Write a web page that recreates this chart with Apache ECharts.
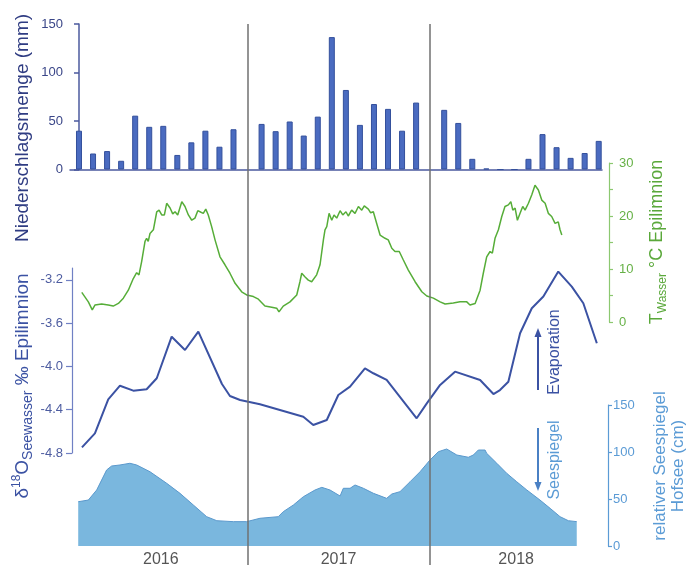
<!DOCTYPE html>
<html>
<head>
<meta charset="utf-8">
<script src="https://cdn.jsdelivr.net/npm/echarts@6/dist/echarts.min.js"></script>
<style>
  html, body { margin: 0; padding: 0; background: #ffffff; }
  #chart { width: 699px; height: 568px; }
</style>
</head>
<body>
<div id="chart"></div>
<script>
// Monthly precipitation (mm), January to December
const years = [2016, 2017, 2018];
const precip2016 = [40, 16.5, 19, 9, 55.5, 44, 45, 15, 28, 40, 23.5, 41.5];
const precip2017 = [47, 39.5, 49.5, 35, 54.5, 136.5, 82, 46, 67.5, 62.5, 40, 69];
const precip2018 = [61.5, 48, 11, 1, 0, 0, 11, 36.5, 23, 12, 17, 29.5];

// Epilimnion water temperature (°C) against decimal year
const waterTemp = [
  [2016.055, 5.6], [2016.092, 3.8], [2016.114, 2.3], [2016.129, 3.2], [2016.167, 3.4],
  [2016.204, 3.2], [2016.232, 3.0], [2016.261, 3.5], [2016.289, 4.5], [2016.317, 6.0],
  [2016.345, 8.2], [2016.364, 9.3], [2016.377, 8.9], [2016.392, 11.4], [2016.411, 15.2],
  [2016.420, 15.8], [2016.429, 15.2], [2016.439, 16.7], [2016.458, 17.4], [2016.477, 20.8],
  [2016.490, 21.1], [2016.505, 20.2], [2016.520, 20.2], [2016.533, 22.4], [2016.552, 21.5],
  [2016.567, 20.4], [2016.580, 20.8], [2016.595, 20.2], [2016.618, 22.7], [2016.636, 21.8],
  [2016.655, 20.2], [2016.674, 19.2], [2016.692, 19.6], [2016.708, 21.0], [2016.726, 20.7],
  [2016.739, 20.5], [2016.753, 21.3], [2016.767, 20.2], [2016.786, 18.0], [2016.805, 15.5],
  [2016.833, 12.3], [2016.861, 10.8], [2016.889, 9.2], [2016.918, 7.3], [2016.955, 5.7],
  [2016.983, 5.1], [2017.021, 4.8], [2017.049, 4.3], [2017.086, 3.0], [2017.124, 2.8],
  [2017.152, 2.6], [2017.165, 1.9], [2017.189, 3.0], [2017.227, 3.8], [2017.265, 5.1],
  [2017.283, 7.6], [2017.293, 9.2], [2017.312, 8.5], [2017.330, 7.9], [2017.349, 7.6],
  [2017.377, 8.9], [2017.396, 10.8], [2017.415, 15.5], [2017.424, 17.4], [2017.434, 18.0],
  [2017.447, 20.5], [2017.462, 19.2], [2017.475, 20.2], [2017.490, 19.6], [2017.509, 21.0],
  [2017.524, 20.2], [2017.542, 20.8], [2017.555, 20.0], [2017.574, 21.1], [2017.593, 20.5],
  [2017.612, 21.8], [2017.631, 21.1], [2017.645, 21.9], [2017.668, 21.3], [2017.681, 20.6],
  [2017.696, 20.8], [2017.715, 18.6], [2017.734, 16.4], [2017.762, 15.8], [2017.780, 15.5],
  [2017.800, 13.9], [2017.818, 13.3], [2017.842, 13.3], [2017.865, 11.7], [2017.893, 9.8],
  [2017.931, 7.6], [2017.969, 5.7], [2017.997, 4.9], [2018.034, 4.5], [2018.072, 3.8],
  [2018.100, 3.4], [2018.146, 3.6], [2018.184, 3.8], [2018.222, 3.8], [2018.240, 3.2],
  [2018.269, 3.5], [2018.297, 6.0], [2018.315, 9.2], [2018.334, 12.3], [2018.353, 13.3],
  [2018.366, 13.0], [2018.381, 15.8], [2018.400, 17.4], [2018.419, 19.9], [2018.437, 21.8],
  [2018.456, 22.1], [2018.470, 22.7], [2018.481, 21.1], [2018.494, 21.5], [2018.507, 19.2],
  [2018.522, 20.5], [2018.537, 21.8], [2018.550, 21.1], [2018.569, 22.4], [2018.588, 24.0],
  [2018.606, 25.8], [2018.625, 24.9], [2018.644, 23.0], [2018.663, 22.4], [2018.681, 20.5],
  [2018.700, 19.9], [2018.719, 18.6], [2018.737, 18.9], [2018.747, 17.4], [2018.757, 16.4]
];

// Lake water δ18O (‰) in the epilimnion against decimal year
const d18O = [
  [2016.056, -4.748], [2016.129, -4.618], [2016.204, -4.304], [2016.270, -4.178],
  [2016.345, -4.224], [2016.420, -4.211], [2016.477, -4.109], [2016.561, -3.725],
  [2016.636, -3.848], [2016.711, -3.678], [2016.844, -4.162], [2016.889, -4.273],
  [2016.946, -4.310], [2017.058, -4.350], [2017.302, -4.465], [2017.358, -4.541],
  [2017.434, -4.495], [2017.499, -4.264], [2017.565, -4.187], [2017.649, -4.017],
  [2017.696, -4.063], [2017.771, -4.125], [2017.940, -4.479], [2017.997, -4.341],
  [2018.072, -4.171], [2018.156, -4.048], [2018.297, -4.125], [2018.372, -4.255],
  [2018.409, -4.218], [2018.456, -4.141], [2018.522, -3.693], [2018.588, -3.462],
  [2018.653, -3.354], [2018.737, -3.123], [2018.813, -3.262], [2018.878, -3.416],
  [2018.954, -3.786]
];

// Relative lake level of the Hofsee (cm) against decimal year
const lakeLevel = [
  [2016.035, 47.1], [2016.092, 48.9], [2016.139, 59.6], [2016.195, 80.9], [2016.223, 85.1],
  [2016.270, 86.2], [2016.326, 88.0], [2016.364, 86.2], [2016.439, 79.0], [2016.533, 66.7],
  [2016.608, 56.0], [2016.683, 43.6], [2016.758, 31.2], [2016.815, 26.9], [2016.908, 25.9],
  [2016.983, 25.9], [2017.058, 29.5], [2017.161, 31.2], [2017.189, 36.5], [2017.246, 43.6],
  [2017.302, 52.4], [2017.368, 59.6], [2017.406, 62.4], [2017.452, 59.6], [2017.509, 53.2],
  [2017.527, 61.4], [2017.565, 61.4], [2017.593, 64.9], [2017.640, 61.4], [2017.696, 56.1],
  [2017.771, 50.7], [2017.800, 55.3], [2017.846, 57.8], [2017.903, 68.4], [2017.959, 79.0],
  [2018.015, 91.5], [2018.062, 100.3], [2018.109, 103.2], [2018.166, 96.8], [2018.231, 94.4],
  [2018.259, 96.8], [2018.287, 102.1], [2018.325, 102.1], [2018.334, 98.6], [2018.391, 88.0],
  [2018.447, 77.3], [2018.503, 68.4], [2018.560, 59.6], [2018.634, 48.9], [2018.691, 40.1],
  [2018.747, 31.2], [2018.794, 26.9], [2018.841, 25.9]
];

// Tick values
const precipTicks = [0, 50, 100, 150];
const tempTicks = [0, 10, 20, 30];
const d18OTicks = [-4.8, -4.4, -4.0, -3.6, -3.2];
const lakeTicks = [0, 50, 100, 150];
const yearLabelPos = [2016.5, 2017.5, 2018.5];

// Bars sit in monthly slots, with one empty slot separating the years
const SLOTS_PER_YEAR = 13;
const precipByYear = [precip2016, precip2017, precip2018];
const barData = [];
precipByYear.forEach((vals, k) => {
  vals.forEach((v, m) => barData.push([k * SLOTS_PER_YEAR + m, v]));
});
const yearBreaks = [1, 2].map(k => k * SLOTS_PER_YEAR - 1);

const FONT = '"Liberation Sans", Arial, sans-serif';
const SLOT_MIN = -0.64, SLOT_MAX = 37.235;

const C = {
  navy: '#2f3c82',
  barAxis: '#4b5a9e',
  barFill: '#4a6bc0',
  barEdge: '#34509c',
  iso: '#3b52a3',
  isoAxis: '#7080c4',
  isoLabel: '#4d5ca0',
  green: '#56ad38',
  greenAxis: '#8cc870',
  greenLabel: '#66b146',
  lakeFill: '#7ab7de',
  lakeEdge: '#5a98cc',
  lake: '#5b9bd5',
  sep: '#707070',
  year: '#555555'
};

const chart = echarts.init(document.getElementById('chart'), null, { renderer: 'canvas' });

const hiddenX = (grid, min, max) => ({ gridIndex: grid, type: 'value', min, max, show: false });

const option = {
  animation: false,
  textStyle: { fontFamily: FONT },
  grid: [
    { left: 70, right: 97, top: 24, bottom: 398.5 },  // precipitation
    { left: 72, right: 94, top: 163, bottom: 246 },   // water temperature
    { left: 72, right: 94, top: 268, bottom: 115 },   // δ18O
    { left: 72, right: 94, top: 405, bottom: 22 },    // lake level
    { left: 70, right: 97, top: 24, bottom: 3 }       // year separators
  ],
  xAxis: [
    {
      gridIndex: 0, type: 'value', min: SLOT_MIN, max: SLOT_MAX,
      axisLine: { show: true, onZero: false, lineStyle: { color: C.barAxis, width: 1.5 } },
      axisTick: { show: false }, axisLabel: { show: false }, splitLine: { show: false }
    },
    hiddenX(1, 2016, 2019),
    hiddenX(2, 2016, 2019),
    {
      gridIndex: 3, type: 'value', min: 2016, max: 2019,
      axisLine: { show: false }, axisTick: { show: false }, splitLine: { show: false },
      axisLabel: {
        customValues: yearLabelPos,
        formatter: v => String(Math.floor(v)),
        color: C.year, fontSize: 16, margin: 6, fontFamily: FONT
      }
    },
    hiddenX(4, SLOT_MIN, SLOT_MAX)
  ],
  yAxis: [
    {
      gridIndex: 0, type: 'value', min: 0, max: 150,
      axisLine: { show: true, lineStyle: { color: C.barAxis, width: 1.5 } },
      axisTick: { show: true, length: 5, customValues: precipTicks, lineStyle: { color: C.barAxis, width: 1.5 } },
      axisLabel: { customValues: precipTicks, color: '#3a4688', fontSize: 13, margin: 7, fontFamily: FONT },
      splitLine: { show: false }
    },
    {
      gridIndex: 1, type: 'value', position: 'right', offset: 4, min: 0, max: 30, interval: 5,
      axisLine: { show: true, lineStyle: { color: C.greenAxis, width: 1.2 } },
      axisTick: { show: true, length: 4, lineStyle: { color: C.greenAxis, width: 1.2 } },
      axisLabel: {
        formatter: v => (tempTicks.indexOf(v) >= 0 ? String(v) : ''),
        color: C.greenLabel, fontSize: 13, margin: 10, fontFamily: FONT
      },
      splitLine: { show: false }
    },
    {
      gridIndex: 2, type: 'value', min: -4.8, max: -3.09,
      axisLine: { show: true, lineStyle: { color: C.isoAxis, width: 1.2 } },
      axisTick: { show: true, length: 6, customValues: d18OTicks, lineStyle: { color: C.isoAxis, width: 1.2 } },
      axisLabel: {
        customValues: d18OTicks, formatter: v => v.toFixed(1),
        color: C.isoLabel, fontSize: 13, margin: 9, fontFamily: FONT
      },
      splitLine: { show: false }
    },
    {
      gridIndex: 3, type: 'value', position: 'right', offset: 3, min: 0, max: 150,
      axisLine: { show: true, lineStyle: { color: C.lake, width: 1.2 } },
      axisTick: { show: true, length: 4, customValues: lakeTicks, lineStyle: { color: C.lake, width: 1.2 } },
      axisLabel: { customValues: lakeTicks, color: C.lake, fontSize: 13, margin: 5, fontFamily: FONT },
      splitLine: { show: false }
    },
    { gridIndex: 4, type: 'value', min: 0, max: 1, show: false }
  ],
  series: [
    {
      name: 'Niederschlag', type: 'bar', xAxisIndex: 0, yAxisIndex: 0,
      data: barData, barWidth: 6,
      itemStyle: { color: C.barFill, borderColor: C.barEdge, borderWidth: 1 }
    },
    {
      name: 'Wassertemperatur', type: 'line', xAxisIndex: 1, yAxisIndex: 1,
      data: waterTemp, symbol: 'none', lineStyle: { color: C.green, width: 1.5 }
    },
    {
      name: 'δ18O', type: 'line', xAxisIndex: 2, yAxisIndex: 2,
      data: d18O, symbol: 'none', lineStyle: { color: C.iso, width: 2 }
    },
    {
      name: 'Seespiegel', type: 'line', xAxisIndex: 3, yAxisIndex: 3,
      data: lakeLevel, symbol: 'none',
      lineStyle: { color: C.lakeEdge, width: 1 },
      areaStyle: { color: C.lakeFill, opacity: 1 }
    },
    {
      name: 'Jahresgrenzen', type: 'line', xAxisIndex: 4, yAxisIndex: 4, data: [], z: 10,
      markLine: {
        silent: true, symbol: 'none', label: { show: false },
        lineStyle: { color: C.sep, width: 1.5, type: 'solid' },
        data: yearBreaks.map(v => ({ xAxis: v }))
      }
    }
  ],
  graphic: [
    {
      type: 'text', x: 23, y: 128, rotation: Math.PI / 2,
      style: {
        text: 'Niederschlagsmenge (mm)', fill: C.navy, fontSize: 19, fontFamily: FONT,
        align: 'center', verticalAlign: 'middle', textAlign: 'center', textVerticalAlign: 'middle'
      }
    },
    {
      type: 'text', x: 23, y: 386, rotation: Math.PI / 2,
      style: {
        text: '{m|δ}{sup|18}{m|O}{sub|Seewasser}{m| ‰ Epilimnion}',
        fill: C.iso, fontFamily: FONT,
        align: 'center', verticalAlign: 'middle', textAlign: 'center', textVerticalAlign: 'middle',
        rich: {
          m: { fontSize: 19, lineHeight: 24, fill: C.iso, fontFamily: FONT },
          sup: { fontSize: 12, verticalAlign: 'top', fill: C.iso, fontFamily: FONT },
          sub: { fontSize: 14, verticalAlign: 'bottom', fill: C.iso, fontFamily: FONT }
        }
      }
    },
    {
      type: 'text', x: 657, y: 242, rotation: Math.PI / 2,
      style: {
        text: '{m|T}{sub|Wasser}{m| °C Epilimnion}',
        fill: '#5aa83a', fontFamily: FONT,
        align: 'center', verticalAlign: 'middle', textAlign: 'center', textVerticalAlign: 'middle',
        rich: {
          m: { fontSize: 18, lineHeight: 23, fill: '#5aa83a', fontFamily: FONT },
          sub: { fontSize: 12, verticalAlign: 'bottom', fill: '#5aa83a', fontFamily: FONT }
        }
      }
    },
    {
      type: 'text', x: 669, y: 466, rotation: Math.PI / 2,
      style: {
        text: 'relativer Seespiegel\nHofsee (cm)', fill: C.lake, fontSize: 17, lineHeight: 18,
        fontFamily: FONT,
        align: 'center', verticalAlign: 'middle', textAlign: 'center', textVerticalAlign: 'middle'
      }
    },
    {
      type: 'text', x: 555, y: 352, rotation: Math.PI / 2,
      style: {
        text: 'Evaporation', fill: C.iso, fontSize: 16, fontFamily: FONT,
        align: 'center', verticalAlign: 'middle', textAlign: 'center', textVerticalAlign: 'middle'
      }
    },
    {
      type: 'text', x: 555, y: 460, rotation: Math.PI / 2,
      style: {
        text: 'Seespiegel', fill: C.lake, fontSize: 16, fontFamily: FONT,
        align: 'center', verticalAlign: 'middle', textAlign: 'center', textVerticalAlign: 'middle'
      }
    },
    // Evaporation arrow (pointing up)
    { type: 'line', shape: { x1: 538, y1: 390, x2: 538, y2: 336 }, style: { stroke: C.iso, lineWidth: 2 } },
    { type: 'polygon', shape: { points: [[538, 328], [534.5, 337], [541.5, 337]] }, style: { fill: C.iso } },
    // Lake level arrow (pointing down)
    { type: 'line', shape: { x1: 538, y1: 428, x2: 538, y2: 483 }, style: { stroke: '#4a80c4', lineWidth: 2 } },
    { type: 'polygon', shape: { points: [[538, 491], [534.5, 482], [541.5, 482]] }, style: { fill: '#4a80c4' } }
  ]
};

chart.setOption(option);
</script>
</body>
</html>
